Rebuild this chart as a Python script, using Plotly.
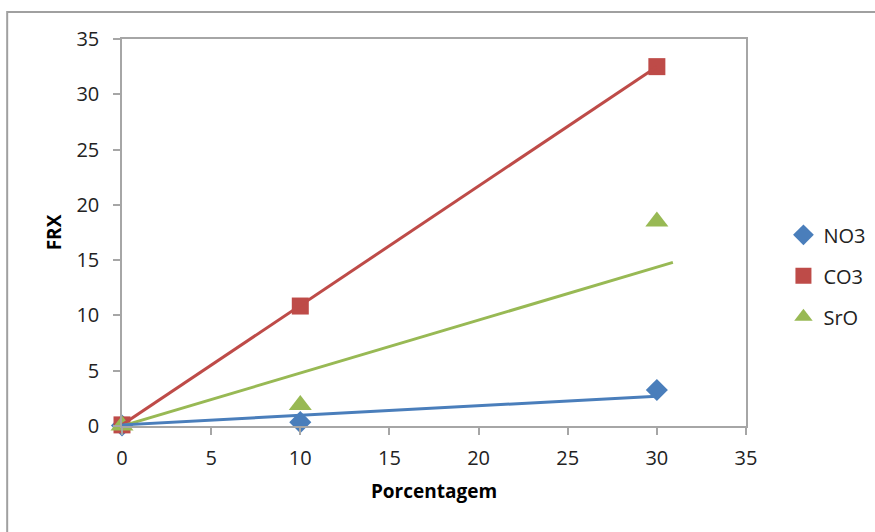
import plotly.graph_objects as go

# Data
x_vals = [0, 10, 30]
no3 = [0.05, 0.35, 3.25]
co3 = [0.1, 10.85, 32.5]
sro = [0.05, 1.9, 18.5]

# Trendlines
no3_trend_x = [0, 30]
no3_trend_y = [0.1, 2.7]
co3_trend_x = [0, 30]
co3_trend_y = [0.1, 32.5]
sro_trend_x = [0, 30.9]
sro_trend_y = [0.0, 14.8]

BLUE = "#4a7ebb"
RED = "#be4b48"
GREEN = "#98b954"
FONT = "Open Sans"
GRID = "#a6a6a6"

fig = go.Figure()

# Markers
fig.add_trace(go.Scatter(x=x_vals, y=no3, mode="markers", name="NO3", legendgroup="a",
                         cliponaxis=False,
                         marker=dict(symbol="diamond", size=17, color=BLUE)))
fig.add_trace(go.Scatter(x=x_vals, y=co3, mode="markers", name="CO3", legendgroup="b",
                         cliponaxis=False,
                         marker=dict(symbol="square", size=17, color=RED)))
fig.add_trace(go.Scatter(x=x_vals, y=sro, mode="markers", name="SrO", legendgroup="c",
                         cliponaxis=False,
                         marker=dict(symbol="triangle-up", size=20, color=GREEN)))

# Trendlines (drawn above markers, as in the reference)
fig.add_trace(go.Scatter(x=co3_trend_x, y=co3_trend_y, mode="lines",
                         line=dict(color=RED, width=3), showlegend=False, hoverinfo="skip"))
fig.add_trace(go.Scatter(x=sro_trend_x, y=sro_trend_y, mode="lines",
                         line=dict(color=GREEN, width=3), showlegend=False, hoverinfo="skip"))
fig.add_trace(go.Scatter(x=no3_trend_x, y=no3_trend_y, mode="lines",
                         line=dict(color=BLUE, width=3), showlegend=False, hoverinfo="skip"))

axis_common = dict(
    showgrid=False, zeroline=False, showline=True, linecolor=GRID, linewidth=1.5,
    mirror=True, ticks="outside", ticklen=7, tickcolor=GRID, tickwidth=1.5,
    tickfont=dict(family=FONT, size=20, color="#222222"),
)

fig.update_layout(
    width=875, height=532,
    margin=dict(l=122, r=129, t=39, b=106, autoexpand=False),
    paper_bgcolor="white", plot_bgcolor="white",
    xaxis=dict(range=[0, 35], dtick=5, tick0=0, ticklabelstandoff=6,
               title=dict(text="<b>Porcentagem</b>", font=dict(family=FONT, size=19, color="#000"),
                          standoff=15),
               **axis_common),
    yaxis=dict(range=[0, 35], dtick=5, tick0=0, ticklabelstandoff=10,
               title=dict(text="<b>FRX</b>", font=dict(family=FONT, size=19, color="#000"),
                          standoff=10),
               **axis_common),
    legend=dict(x=1.06, y=0.388, xanchor="left", yanchor="middle",
                font=dict(family=FONT, size=20, color="#222222"),
                traceorder="grouped", tracegroupgap=12,
                itemwidth=30, bgcolor="rgba(0,0,0,0)"),
    shapes=[dict(type="rect", xref="paper", yref="paper",
                 x0=-0.184, x1=1.4, y0=-0.5, y1=1.07,
                 line=dict(color="#a0a0a0", width=2), layer="below")],
)

fig.write_html("out.html")
